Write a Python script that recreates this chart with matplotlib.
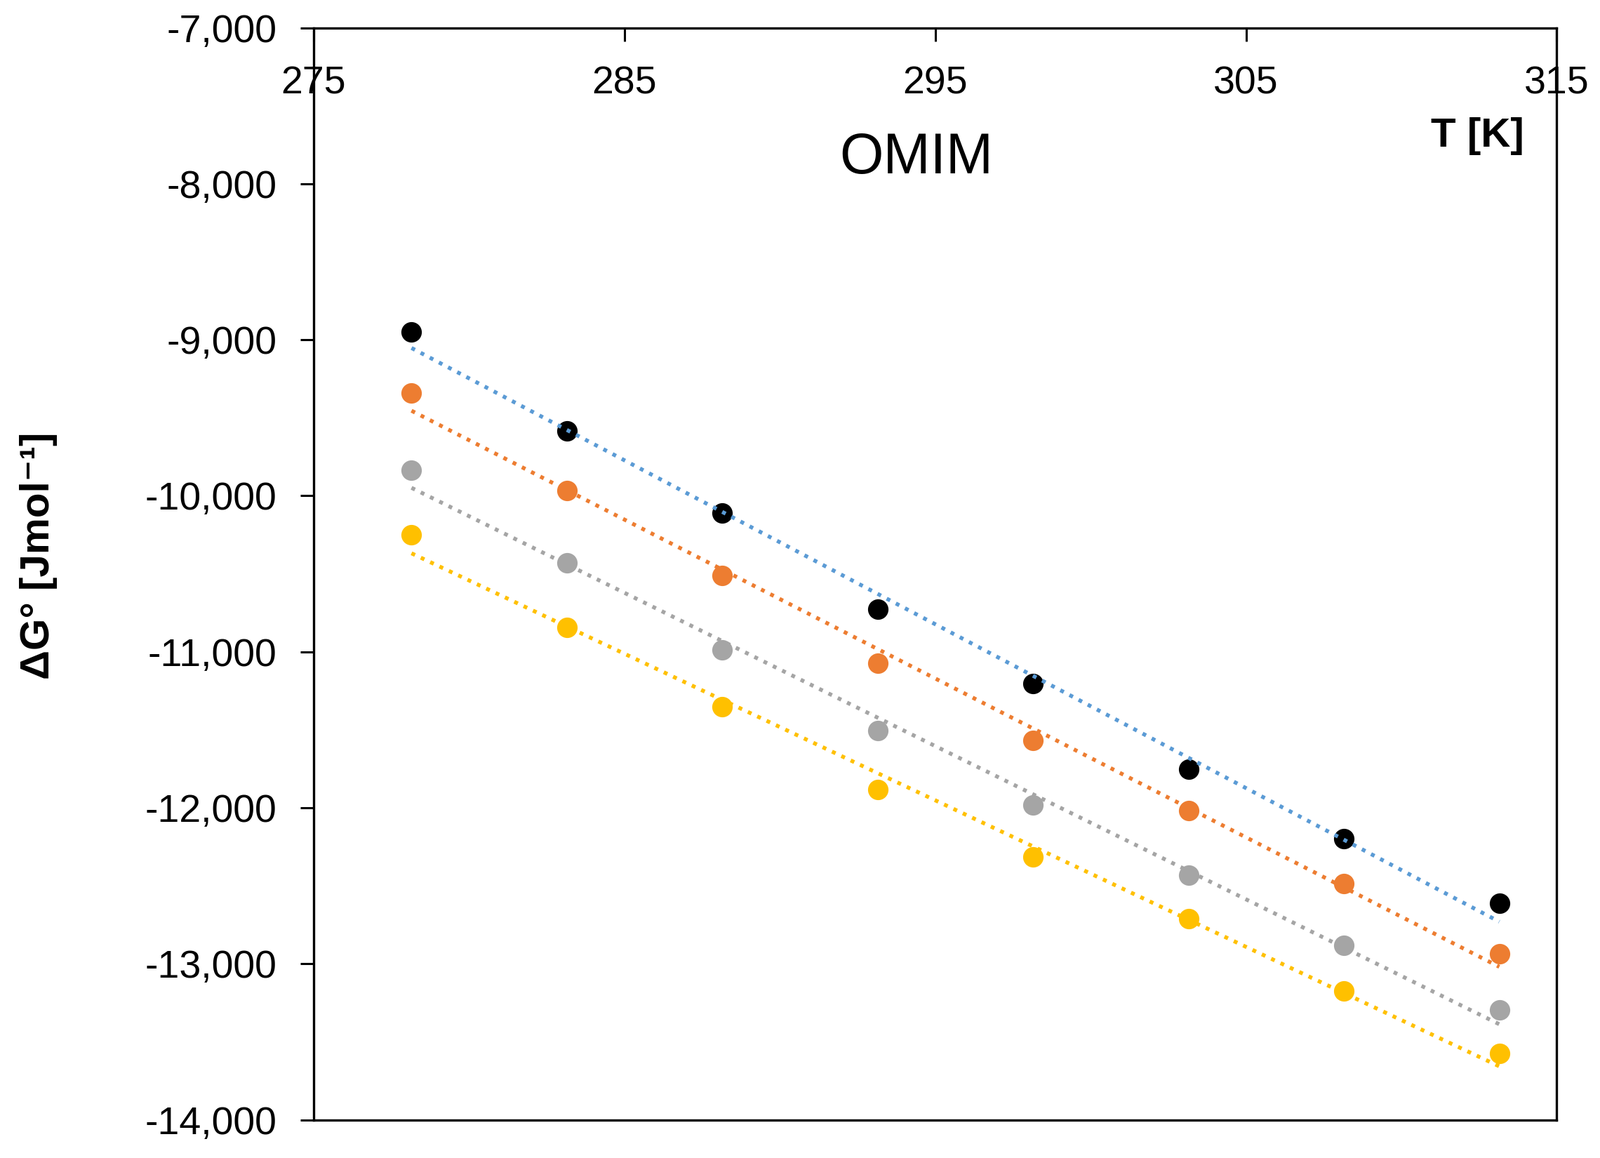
import numpy as np
import matplotlib.pyplot as plt
from matplotlib.ticker import FuncFormatter

plt.rcParams['font.family'] = ['Liberation Sans Narrow', 'Liberation Sans', 'DejaVu Sans']

# temperatures [K]
temps = [278.15, 283.15, 288.15, 293.15, 298.15, 303.15, 308.15, 313.15]

# dG values [J/mol]
dg_black = [-8948, -9582, -10111, -10725, -11203, -11752, -12196, -12614]
dg_orange = [-9340, -9967, -10510, -11072, -11569, -12020, -12484, -12935]
dg_grey = [-9837, -10431, -10987, -11503, -11980, -12431, -12882, -13294]
dg_yellow = [-10248, -10843, -11353, -11882, -12314, -12712, -13176, -13575]

series = [
    (dg_black, "black", "#5B9BD5"),
    (dg_orange, "#ED7D31", "#ED7D31"),
    (dg_grey, "#A5A5A5", "#A5A5A5"),
    (dg_yellow, "#FFC000", "#FFC000"),
]

fig = plt.figure(figsize=(11.4, 8.25), dpi=200)
ax = fig.add_axes([0.196, 0.033, 0.777, 0.943])

t = np.array(temps)
for vals, mcol, lcol in series:
    ax.plot(t, vals, linestyle="none", marker="o", markersize=9.5,
            color=mcol, zorder=2)
    # linear trendline like excel
    k, b = np.polyfit(t, vals, 1)
    ax.plot(t, k * t + b, linestyle=":", linewidth=2.0, color=lcol, zorder=3)

ax.set_xlim(275, 315)
ax.set_ylim(-14000, -7000)
ax.set_xticks([275, 285, 295, 305, 315])
ax.set_yticks(np.arange(-14000, -6999, 1000))
ax.yaxis.set_major_formatter(FuncFormatter(lambda v, p: f"{v:,.0f}"))

ax.tick_params(axis="x", top=True, bottom=False, labeltop=True, labelbottom=False,
               direction="in", length=7, width=1.1, pad=-38, labelsize=20)
ax.tick_params(axis="y", direction="out", length=7, width=1.1, pad=12, labelsize=20)

for s in ax.spines.values():
    s.set_linewidth(1.2)

ax.text(0.485, 0.880, "OMIM", transform=ax.transAxes, fontsize=29,
        ha="center", va="center")
ax.text(0.936, 0.901, "T [K]", transform=ax.transAxes, fontsize=21,
        fontweight="bold", ha="center", va="center")
fig.text(0.024, 0.52, "ΔG° [Jmol⁻¹]", rotation=90, fontsize=21,
         fontweight="bold", ha="center", va="center")

fig.savefig("out.png", dpi=200)
